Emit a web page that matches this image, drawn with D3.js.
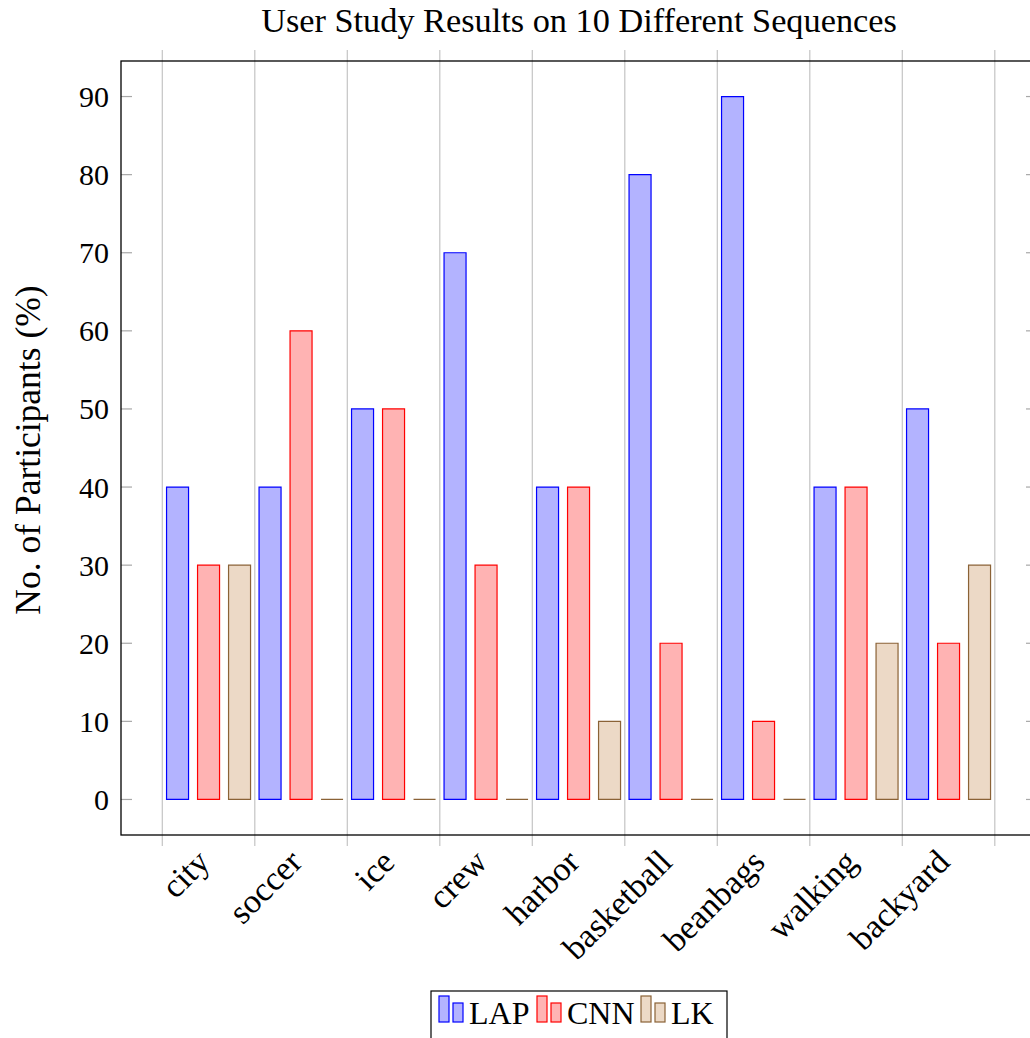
<!DOCTYPE html>
<html>
<head>
<meta charset="utf-8">
<script src="https://cdn.jsdelivr.net/npm/d3@7"></script>
<style>
  html, body { margin: 0; padding: 0; background: #fff; }
  svg { display: block; }
  text { font-family: "Liberation Serif", "DejaVu Serif", serif; fill: #000; }
</style>
</head>
<body>
<svg id="chart" width="1030" height="1038"></svg>
<script>
// Sequences shown on the x axis
const sequences = ["city", "soccer", "ice", "crew", "harbor", "basketball", "beanbags", "walking", "backyard"];
// Share of participants preferring each method (%)
const lapValues = [40, 40, 50, 70, 40, 80, 90, 40, 50];
const cnnValues = [30, 60, 50, 30, 40, 20, 10, 40, 20];
const lkValues  = [30, 0, 0, 0, 10, 0, 0, 20, 30];
const yTicks = [0, 10, 20, 30, 40, 50, 60, 70, 80, 90];

const seriesNames = ["LAP", "CNN", "LK"];
const seriesData = [lapValues, cnnValues, lkValues];
const fills   = ["#b3b3ff", "#ffb3b3", "#ecd9c6"];
const strokes = ["#0000ff", "#ff0000", "#8a6236"];

const svg = d3.select("#chart");

const frame = { left: 121, right: 1037, top: 61, bottom: 835 };
const gridLeft = 162.3, gridStep = 92.5;

// Category bands sit between consecutive vertical grid lines
const x = d3.scaleBand()
  .domain(sequences)
  .range([gridLeft, gridLeft + gridStep * sequences.length])
  .paddingInner(0).paddingOuter(0);

const y = d3.scaleLinear().domain([-4.55, 94.55]).range([frame.bottom, frame.top]);

const barWidth = 22, barOffset = 31;

// vertical grid lines (extend slightly beyond the frame like outward ticks)
const gridXs = d3.range(sequences.length + 1).map(i => gridLeft + gridStep * i);
svg.append("g").selectAll("line").data(gridXs).join("line")
  .attr("x1", d => d).attr("x2", d => d)
  .attr("y1", frame.top - 11).attr("y2", frame.bottom + 11)
  .attr("stroke", "#c4c4c4").attr("stroke-width", 1.2);

// y ticks on both sides
const yTickG = svg.append("g");
yTickG.selectAll("line.l").data(yTicks).join("line").attr("class", "l")
  .attr("x1", frame.left).attr("x2", frame.left + 11)
  .attr("y1", d => y(d)).attr("y2", d => y(d))
  .attr("stroke", "#a8a8a8").attr("stroke-width", 1.2);
yTickG.selectAll("line.r").data(yTicks).join("line").attr("class", "r")
  .attr("x1", frame.right - 11).attr("x2", frame.right)
  .attr("y1", d => y(d)).attr("y2", d => y(d))
  .attr("stroke", "#a8a8a8").attr("stroke-width", 1.2);

// bars: drawn as closed paths so zero-height bars still show their outline
const barPath = (cx, v) => {
  const x0 = cx - barWidth / 2, x1 = cx + barWidth / 2;
  const p = d3.path();
  p.moveTo(x0, y(0)); p.lineTo(x0, y(v)); p.lineTo(x1, y(v)); p.lineTo(x1, y(0)); p.closePath();
  return p.toString();
};

seriesData.forEach((vals, si) => {
  svg.append("g").selectAll("path").data(vals).join("path")
    .attr("d", (v, i) => {
      const cx = x(sequences[i]) + x.bandwidth() / 2 + (si - 1) * barOffset;
      return barPath(cx, v);
    })
    .attr("fill", fills[si]).attr("stroke", strokes[si]).attr("stroke-width", 1.2);
});

// frame
svg.append("rect")
  .attr("x", frame.left).attr("y", frame.top)
  .attr("width", frame.right - frame.left).attr("height", frame.bottom - frame.top)
  .attr("fill", "none").attr("stroke", "#000").attr("stroke-width", 1.3);

// y tick labels
svg.append("g").selectAll("text").data(yTicks).join("text")
  .attr("x", 109).attr("y", d => y(d))
  .attr("text-anchor", "end").attr("dominant-baseline", "central")
  .attr("font-size", 30)
  .text(d => d);

// x tick labels, rotated
svg.append("g").selectAll("text").data(sequences).join("text")
  .attr("transform", d => `translate(${x(d) + x.bandwidth() / 2 + 3},${frame.bottom + 29}) rotate(-45)`)
  .attr("text-anchor", "end")
  .attr("font-size", 34)
  .text(d => d);

// y axis title
svg.append("text")
  .attr("transform", `translate(28,450) rotate(-90)`)
  .attr("text-anchor", "middle").attr("dominant-baseline", "central")
  .attr("font-size", 35.5)
  .text("No. of Participants (%)");

// chart title
svg.append("text")
  .attr("x", 579).attr("y", 20)
  .attr("text-anchor", "middle").attr("dominant-baseline", "central")
  .attr("font-size", 34.3)
  .text("User Study Results on 10 Different Sequences");

// legend
const legend = svg.append("g");
legend.append("rect")
  .attr("x", 431).attr("y", 991).attr("width", 296).attr("height", 60)
  .attr("fill", "#fff").attr("stroke", "#000").attr("stroke-width", 1.2);
const legendStarts = [439, 537, 641];
seriesNames.forEach((name, si) => {
  const lx = legendStarts[si];
  legend.append("rect").attr("x", lx).attr("y", 996).attr("width", 10).attr("height", 26)
    .attr("fill", fills[si]).attr("stroke", strokes[si]).attr("stroke-width", 1.2);
  legend.append("rect").attr("x", lx + 14).attr("y", 1003).attr("width", 10).attr("height", 19)
    .attr("fill", fills[si]).attr("stroke", strokes[si]).attr("stroke-width", 1.2);
  legend.append("text").attr("x", lx + 30).attr("y", 1024)
    .attr("font-size", 32).text(name);
});
</script>
</body>
</html>
